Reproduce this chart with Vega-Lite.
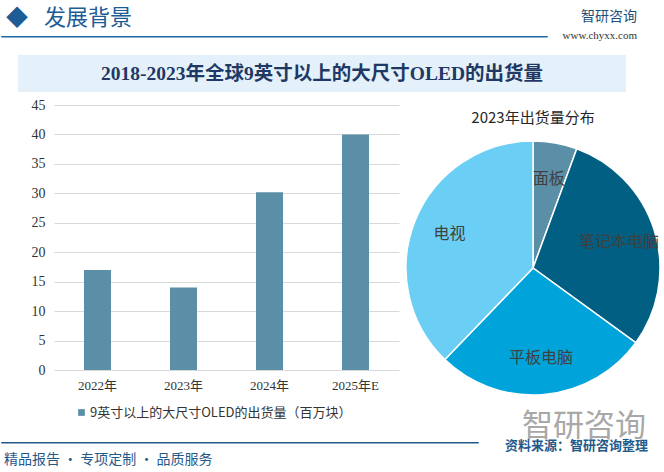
{
  "$schema": "https://vega.github.io/schema/vega-lite/v6.json",
  "background": "white",
  "padding": {"left": 0, "top": 6, "right": 0, "bottom": 0},
  "autosize": {"type": "pad"},
  "config": {
    "view": {"stroke": null},
    "font": "Noto Sans CJK SC",
    "title": {"fontWeight": "normal"}
  },
  "spacing": -5,
  "resolve": {"scale": {"color": "independent"}, "legend": {"color": "independent"}},
  "vconcat": [
    {
      "bounds": "flush",
      "spacing": 0,
      "hconcat": [
        {
          "width": 546,
          "height": 0.5,
          "view": {"stroke": "#1F68A6", "strokeWidth": 1},
          "title": {"text": "◆ \u2002发展背景", "anchor": "start", "orient": "top", "fontSize": 22, "color": "#1D5C94", "offset": 6, "dx": 5},
          "data": {"values": []},
          "mark": {"type": "text"},
          "encoding": {}
        },
        {
          "width": 90,
          "height": 0.5,
          "title": {"text": "智研咨询", "anchor": "end", "orient": "top", "fontSize": 14, "color": "#1F4E79", "subtitle": "www.chyxx.com", "subtitleFont": "Liberation Serif", "subtitleFontSize": 11, "subtitleColor": "#333333", "subtitlePadding": 6, "offset": -5},
          "data": {"values": []},
          "mark": {"type": "text"},
          "encoding": {}
        }
      ]
    },
    {"width": 1, "height": 14, "data": {"values": []}, "mark": {"type": "text"}, "encoding": {}},
    {
      "bounds": "flush",
      "spacing": 0,
      "hconcat": [
        {"width": 17, "height": 37, "data": {"values": []}, "mark": {"type": "text"}, "encoding": {}},
        {
          "width": 608,
          "height": 37,
          "view": {"fill": "#E4F1FA", "stroke": null},
          "data": {"values": [{"t": "2018-2023年全球9英寸以上的大尺寸OLED的出货量"}]},
          "mark": {"type": "text", "font": "Liberation Serif, Noto Sans CJK SC", "fontWeight": "bold", "fontSize": 19.5, "color": "#1F3864"},
          "encoding": {"text": {"field": "t", "type": "nominal"}}
        }
      ]
    },
    {"width": 1, "height": 11, "data": {"values": []}, "mark": {"type": "text"}, "encoding": {}},
    {
      "bounds": "flush",
      "spacing": 0,
      "resolve": {"scale": {"color": "independent"}, "legend": {"color": "independent"}},
      "hconcat": [
        {"width": 53, "height": 265, "data": {"values": []}, "mark": {"type": "text"}, "encoding": {}},
        {
          "width": 345,
          "height": 265,
          "title": {"text": "智研咨询", "anchor": "end", "orient": "bottom", "fontSize": 31, "color": "#A8A8A8", "offset": -8, "dx": 247},
          "data": {"values": [
            {"year": "2022年", "value": 17, "series": "9英寸以上的大尺寸OLED的出货量（百万块）"},
            {"year": "2023年", "value": 14, "series": "9英寸以上的大尺寸OLED的出货量（百万块）"},
            {"year": "2024年", "value": 30.2, "series": "9英寸以上的大尺寸OLED的出货量（百万块）"},
            {"year": "2025年E", "value": 40, "series": "9英寸以上的大尺寸OLED的出货量（百万块）"}
          ]},
          "mark": {"type": "bar"},
          "encoding": {
            "x": {"field": "year", "type": "nominal", "sort": null,
                  "scale": {"paddingInner": 0.686, "paddingOuter": 0.349},
                  "axis": {"title": null, "labelAngle": 0, "domain": false, "ticks": false, "labelPadding": 9, "labelFontSize": 13, "labelColor": "#333333", "labelFont": "Liberation Serif, Noto Sans CJK SC"}},
            "y": {"field": "value", "type": "quantitative",
                  "scale": {"domain": [0, 45]},
                  "axis": {"title": null, "values": [0, 5, 10, 15, 20, 25, 30, 35, 40, 45], "domain": false, "ticks": false, "labelPadding": 9, "labelFontSize": 14, "labelColor": "#333333", "labelFont": "Liberation Serif", "gridColor": "#D9D9D9", "gridWidth": 1}},
            "color": {"field": "series", "type": "nominal",
                      "scale": {"range": ["#5B8FA8"]},
                      "legend": {"orient": "none", "legendX": 21, "legendY": 301, "title": null, "symbolType": "square", "symbolSize": 45, "labelFontSize": 13, "labelColor": "#333333", "padding": 0, "labelOffset": 2, "labelLimit": 400}}
          }
        },
        {"width": 7, "height": 265, "data": {"values": []}, "mark": {"type": "text"}, "encoding": {}},
        {
          "width": 254,
          "height": 326,
          "title": {"text": "2023年出货量分布", "fontSize": 15, "color": "#262626", "anchor": "middle", "offset": -21},
          "data": {"values": [
            {"cat": "面板", "share": 5.6},
            {"cat": "笔记本电脑", "share": 29.4},
            {"cat": "平板电脑", "share": 27.2},
            {"cat": "电视", "share": 37.8}
          ]},
          "transform": [{"window": [{"op": "row_number", "as": "rank"}]}],
          "encoding": {
            "theta": {"field": "share", "type": "quantitative", "stack": true},
            "order": {"field": "rank", "type": "quantitative"}
          },
          "layer": [
            {
              "mark": {"type": "arc", "stroke": "white", "strokeWidth": 1.5},
              "encoding": {
                "color": {"field": "cat", "type": "nominal",
                          "scale": {"domain": ["面板", "笔记本电脑", "平板电脑", "电视"], "range": ["#5B8FA8", "#005F83", "#00A3DA", "#6BCEF5"]},
                          "legend": null}
              }
            },
            {
              "mark": {"type": "text", "radius": 90, "fontSize": 16, "color": "#404040"},
              "encoding": {"text": {"field": "cat", "type": "nominal"}}
            }
          ]
        }
      ]
    },
    {
      "bounds": "flush",
      "spacing": 0,
      "hconcat": [
        {
          "width": 477,
          "height": 0.5,
          "view": {"stroke": "#235A8C", "strokeWidth": 1},
          "title": {"text": "精品报告 · 专项定制 · 品质服务", "anchor": "start", "orient": "bottom", "fontSize": 14, "color": "#1F5A8A", "offset": 10, "dx": 3},
          "data": {"values": []},
          "mark": {"type": "text"},
          "encoding": {}
        },
        {
          "width": 170,
          "height": 0.5,
          "title": {"text": "资料来源：智研咨询整理", "anchor": "end", "orient": "top", "fontSize": 13, "fontWeight": "bold", "color": "#1F5A8A", "offset": -11},
          "data": {"values": []},
          "mark": {"type": "text"},
          "encoding": {}
        }
      ]
    }
  ]
}
